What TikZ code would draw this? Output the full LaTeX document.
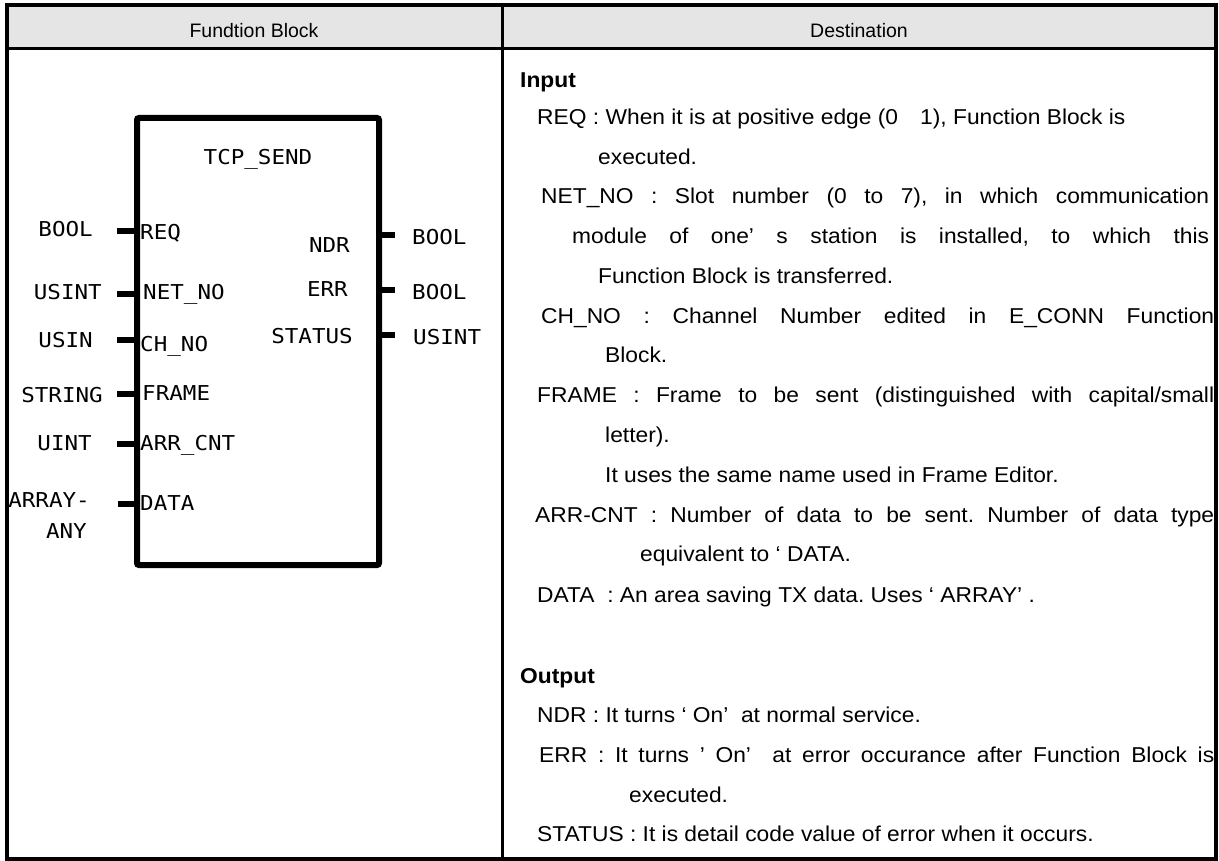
\documentclass[tikz,border=0pt]{standalone}
\usepackage{fontspec}
\setmainfont{Liberation Sans}
\newfontfamily\descfont[FakeStretch=1.06]{Liberation Sans}
\newfontfamily\fbfont[FakeStretch=1.1]{DejaVu Sans Mono}
\definecolor{hdr}{gray}{0.9}
\frenchspacing
\begin{document}
\begin{tikzpicture}[x=1pt,y=-1pt,
  desc/.style={anchor=base west, inner sep=0pt, font=\descfont\fontsize{21.5}{25}\selectfont},
  desch/.style={desc, font=\descfont\bfseries\fontsize{21.5}{25}\selectfont},
  head/.style={anchor=base, inner sep=0pt, font=\fontsize{19.5}{23}\selectfont},
  pin/.style={inner sep=0pt, font=\fbfont\fontsize{20.5}{24}\selectfont},
  pinw/.style={pin, anchor=base west},
  pine/.style={pin, anchor=base east},
  stub/.style={line width=6pt},
  frameline/.style={line width=4pt}]
\useasboundingbox (0,0) rectangle (1219,861);
% table
\fill[hdr] (7,5) rectangle (1216,48);
\draw[line width=3pt] (7,48.5) -- (1216,48.5);
\draw[line width=2.5pt] (502.5,5) -- (502.5,859);
\draw[frameline] (7,5) rectangle (1216,859);
\node[head] (h1) at (254,38) {Fundtion Block};
\node[head] (h2) at (859,38) {Destination};
% function block
\node[draw, line width=6pt, rounded corners=2pt, minimum width=242pt, minimum height=447pt, inner sep=0pt] (fb) at (258,341.5) {};
\node[pin, anchor=base] (title) at (258,165) {TCP\_SEND};
% inputs
\node[pinw] (iREQ) at (140,240) {REQ};
\node[pinw] (iNET) at (143,300) {NET\_NO};
\node[pinw] (iCH) at (140,351) {CH\_NO};
\node[pinw] (iFR) at (142,400) {FRAME};
\node[pinw] (iARR) at (140,450) {ARR\_CNT};
\node[pinw] (iDATA) at (140,510) {DATA};
\node[pine] (tREQ) at (93,237) {BOOL};
\node[pine] (tNET) at (102,300) {USINT};
\node[pine] (tCH) at (93,348) {USIN};
\node[pine] (tFR) at (103,402) {STRING};
\node[pine] (tARR) at (92,450) {UINT};
\node[pine] (tDATA1) at (90,507) {ARRAY-};
\node[pine] (tDATA2) at (87,538) {ANY};
\coordinate (aREQ) at (117,231);
\coordinate (aNET) at (117,294);
\coordinate (aCH) at (117,340);
\coordinate (aFR) at (117,394);
\coordinate (aARR) at (117,444);
\coordinate (aDATA) at (118,504);
\foreach \c in {aREQ,aNET,aCH,aFR,aARR,aDATA}
  \draw[stub] (\c) -- (\c -| fb.west);
% outputs
\node[pine] (oNDR) at (350,253) {NDR};
\node[pine] (oERR) at (348,297) {ERR};
\node[pine] (oST) at (353,343) {STATUS};
\node[pinw] (uNDR) at (412,245) {BOOL};
\node[pinw] (uERR) at (412,300) {BOOL};
\node[pinw] (uST) at (413,344) {USINT};
\coordinate (bNDR) at (395,235);
\coordinate (bERR) at (395,290);
\coordinate (bST) at (395,335);
\foreach \c in {bNDR,bERR,bST}
  \draw[stub] (\c -| fb.east) -- (\c);
% description
\node[desch] (din) at (520,87.5) {Input};
\node[desc] (d1) at (537,124.5) {REQ : When it is at positive edge (0\hspace{22pt}1), Function Block is};
\node[desc] (d2) at (598,164.5) {executed.};
\node[desc] (d3) at (541,203.5) {\makebox[668pt][s]{NET\_NO : Slot number (0 to 7), in which communication}};
\node[desc] (d4) at (572,243.5) {\makebox[637pt][s]{module of one’ s station is installed, to which this}};
\node[desc] (d5) at (598,283.5) {Function Block is transferred.};
\node[desc] (d6) at (541,323.5) {\makebox[673pt][s]{CH\_NO :  Channel Number edited in  E\_CONN Function}};
\node[desc] (d7) at (605,362.5) {Block.};
\node[desc] (d8) at (537,402.5) {\makebox[677pt][s]{FRAME : Frame to be sent  (distinguished with capital/small}};
\node[desc] (d9) at (605,442.5) {letter).};
\node[desc] (d10) at (605,482.5) {It uses the same name used in Frame Editor.};
\node[desc] (d11) at (535,522.5) {\makebox[679pt][s]{ARR-CNT : Number of data to be sent. Number of data type}};
\node[desc] (d12) at (640,561.5) {equivalent to ‘ DATA.};
\node[desc] (d13) at (537,602) {DATA\ \ :\ An area saving TX data. Uses ‘ ARRAY’ .};
\node[desch] (dout) at (520,683) {Output};
\node[desc] (d14) at (537,722) {NDR : It turns ‘ On’\ \ at normal service.};
\node[desc] (d15) at (539,762) {\makebox[675pt][s]{ERR : It turns ’ On’\ \ at error occurance after Function Block is}};
\node[desc] (d16) at (629,802) {executed.};
\node[desc] (d17) at (537,841) {STATUS\ :\ It is detail code value of error when it occurs.};
\end{tikzpicture}
\end{document}
